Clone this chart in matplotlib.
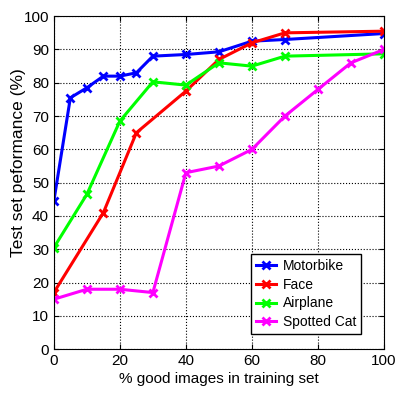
import numpy as np
import matplotlib
matplotlib.use("Agg")
import matplotlib.pyplot as plt

plt.rcParams['font.family'] = ['Liberation Sans', 'DejaVu Sans']

# values
moto_x = [0, 5, 10, 15, 20, 25, 30, 40, 50, 60, 70, 100]
moto_y = [44.5, 75.5, 78.5, 82, 82, 83, 88, 88.5, 89.3, 92.5, 93, 94.8]
face_x = [0, 15, 25, 40, 50, 60, 70, 100]
face_y = [17, 41, 65, 77.5, 87, 92, 95, 95.5]
air_x = [0, 10, 20, 30, 40, 50, 60, 70, 100]
air_y = [30.5, 46.5, 68.5, 80.3, 79.3, 86, 85, 88, 88.7]
cat_x = [0, 10, 20, 30, 40, 50, 60, 70, 80, 90, 100]
cat_y = [15, 18, 18, 17, 53, 55, 60, 70, 78, 86, 90]

fig = plt.figure(figsize=(4.08, 3.95), dpi=100)
ax = fig.add_axes([0.132, 0.116, 0.809, 0.843])

style = dict(marker='x', linewidth=2.2, markersize=6, markeredgewidth=2)
ax.plot(moto_x, moto_y, color='#0000ff', label='Motorbike', **style)
ax.plot(face_x, face_y, color='#ff0000', label='Face', **style)
ax.plot(air_x, air_y, color='#00ff00', label='Airplane', **style)
ax.plot(cat_x, cat_y, color='#ff00ff', label='Spotted Cat', **style)

ax.set_xlim(0, 100)
ax.set_ylim(0, 100)
ax.set_xticks(np.arange(0, 101, 20))
ax.set_yticks(np.arange(0, 101, 10))
ax.grid(True, linestyle=':', color='black', linewidth=0.8)
ax.tick_params(direction='in', labelsize=11, top=True, right=True)
ax.set_xlabel('% good images in training set', fontsize=11, labelpad=3)
ax.set_ylabel('Test set peformance (%)', fontsize=12.5)
ax.yaxis.set_label_coords(-0.085, 0.56)

leg = ax.legend(loc='lower right', bbox_to_anchor=(0.93, 0.045),
                fontsize=10, fancybox=False, framealpha=1,
                edgecolor='black', handlelength=1.4, handletextpad=0.5,
                borderaxespad=0, borderpad=0.35, labelspacing=0.35)
leg.get_frame().set_linewidth(1)

fig.savefig('out.png', dpi=100)
